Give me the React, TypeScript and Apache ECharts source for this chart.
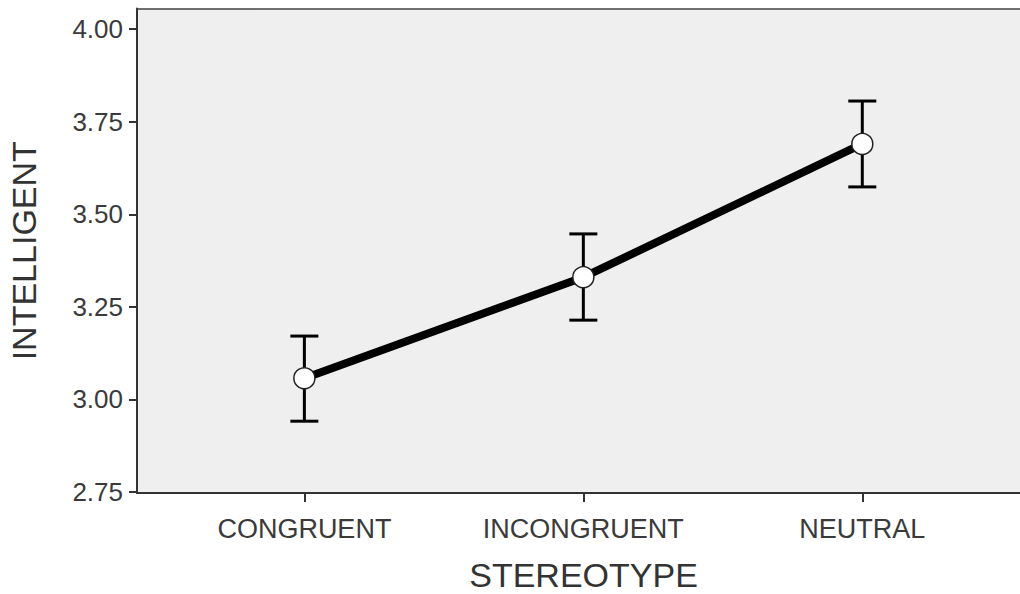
import React, { useEffect, useRef } from "react";
import * as echarts from "echarts";

const categories = ["CONGRUENT", "INCONGRUENT", "NEUTRAL"];
const means = [3.057, 3.33, 3.69];
const upper = [3.171, 3.447, 3.806];
const lower = [2.941, 3.214, 3.574];
const yTicks = [2.75, 3.0, 3.25, 3.5, 3.75, 4.0];
const xTicks = [0, 1, 2];

const FONT = "'Liberation Sans', Arial, Helvetica, sans-serif";

export default function App() {
  const ref = useRef<HTMLDivElement>(null);
  useEffect(() => {
    document.body.style.margin = "0";
    if (!ref.current) return;
    const chart = echarts.init(ref.current, null, { renderer: "svg" });
    const option: any = {
      animation: false,
      backgroundColor: "#ffffff",
      grid: {
        left: 137,
        right: -20,
        top: 8.5,
        bottom: 101,
        outerBoundsMode: "none",
        containLabel: false,
        show: true,
        backgroundColor: "#efefef",
        borderWidth: 0,
      },
      xAxis: [
        {
          type: "value",
          min: -0.6,
          max: 2.637,
          name: "STEREOTYPE",
          nameLocation: "middle",
          nameGap: 65,
          nameTextStyle: {
            fontSize: 34,
            lineHeight: 34,
            color: "#333333",
            fontFamily: FONT,
            verticalAlign: "top",
            padding: [0, 10, 0, 0],
          },
          axisLine: { show: true, onZero: false, lineStyle: { color: "#333333", width: 2 } },
          axisTick: { show: true, length: 9, customValues: xTicks, lineStyle: { color: "#333333", width: 2 } },
          axisLabel: {
            customValues: xTicks,
            formatter: (v: number) => categories[Math.round(v)] ?? "",
            fontSize: 27,
            color: "#3a3a3a",
            fontFamily: FONT,
            margin: 22,
          },
          splitLine: { show: false },
        },
        {
          type: "value",
          position: "top",
          min: -0.6,
          max: 2.637,
          axisLine: { show: true, onZero: false, lineStyle: { color: "#444444", width: 1.5 } },
          axisTick: { show: false },
          axisLabel: { show: false },
          splitLine: { show: false },
        },
      ],
      yAxis: {
        type: "value",
        min: 2.747,
        max: 4.056,
        name: "INTELLIGENT",
        nameLocation: "middle",
        nameGap: 96,
        nameTextStyle: { fontSize: 34, color: "#333333", fontFamily: FONT },
        axisLine: { show: true, onZero: false, lineStyle: { color: "#333333", width: 2 } },
        axisTick: { show: true, length: 8, customValues: yTicks, lineStyle: { color: "#333333", width: 2 } },
        axisLabel: {
          customValues: yTicks,
          formatter: (v: number) => v.toFixed(2),
          fontSize: 26,
          color: "#3a3a3a",
          fontFamily: FONT,
          margin: 14,
        },
        splitLine: { show: false },
      },
      series: [
        {
          type: "custom",
          z: 1,
          xAxisIndex: 0,
          data: categories.map((_, i) => [i, lower[i], upper[i]]),
          renderItem: (params: any, api: any) => {
            const x = api.value(0);
            const lo = api.coord([x, api.value(1)]);
            const hi = api.coord([x, api.value(2)]);
            const hw = 14;
            const style = { stroke: "#000000", lineWidth: 3 };
            return {
              type: "group",
              children: [
                { type: "line", shape: { x1: lo[0], y1: lo[1], x2: hi[0], y2: hi[1] }, style },
                { type: "line", shape: { x1: lo[0] - hw, y1: lo[1], x2: lo[0] + hw, y2: lo[1] }, style },
                { type: "line", shape: { x1: hi[0] - hw, y1: hi[1], x2: hi[0] + hw, y2: hi[1] }, style },
              ],
            };
          },
        },
        {
          type: "line",
          z: 2,
          xAxisIndex: 0,
          data: means.map((m, i) => [i, m]),
          lineStyle: { color: "#000000", width: 8 },
          symbol: "circle",
          symbolSize: 21,
          itemStyle: { color: "#ffffff", borderColor: "#222222", borderWidth: 1.5 },
        },
      ],
    };
    chart.setOption(option);
    return () => chart.dispose();
  }, []);
  return <div ref={ref} style={{ width: 1020, height: 594 }} />;
}
